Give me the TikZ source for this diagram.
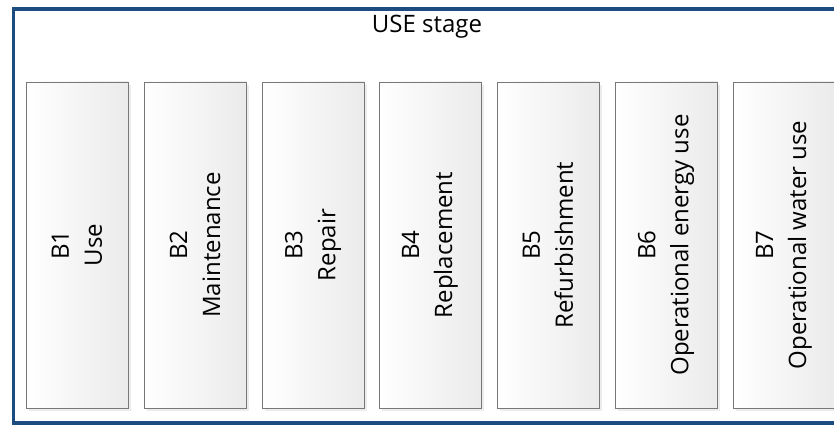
\documentclass[tikz,border=0pt]{standalone}
\usepackage{fontspec}
\setmainfont{Open Sans}
\usetikzlibrary{shadows}

\definecolor{stageblue}{RGB}{28,76,128}
\definecolor{boxedge}{RGB}{120,120,120}

\tikzset{
  stageframe/.style={draw=stageblue, line width=3.2pt, minimum width=830pt,
    minimum height=414pt, inner sep=0pt},
  stagebox/.style={draw=boxedge, line width=0.9pt, minimum width=102pt,
    minimum height=326pt, inner sep=0pt, left color=white, right color=black!8,
    drop shadow={shadow xshift=3pt, shadow yshift=-3pt, fill=black!12, opacity=.6}},
  boxlabel/.style={rotate=90, align=center, font=\fontsize{24}{33}\selectfont},
  stagetitle/.style={font=\fontsize{24}{28}\selectfont}
}

\begin{document}
\begin{tikzpicture}[x=1pt,y=-1pt]
  \useasboundingbox (0,0) rectangle (834,425);
  \clip (0,0) rectangle (834,425);
  \fill[white] (0,0) rectangle (834,425);

  % outer frame and its heading
  \node[stageframe] (stage) at (428.5,216) {};
  \node[stagetitle] (title) at (427,27) {USE stage};

  % the seven modules
  \node[stagebox] (b1) at (77,245) {};
  \node[stagebox] (b2) at (195,245) {};
  \node[stagebox] (b3) at (313,245) {};
  \node[stagebox] (b4) at (430,245) {};
  \node[stagebox] (b5) at (548,245) {};
  \node[stagebox] (b6) at (666,245) {};
  \node[stagebox] (b7) at (784,245) {};

  \node[boxlabel] (l1) at (b1.center) {B1\\Use};
  \node[boxlabel] (l2) at (b2.center) {B2\\Maintenance};
  \node[boxlabel] (l3) at (b3.center) {B3\\Repair};
  \node[boxlabel] (l4) at (b4.center) {B4\\Replacement};
  \node[boxlabel] (l5) at (b5.center) {B5\\Refurbishment};
  \node[boxlabel] (l6) at (b6.center) {B6\\Operational energy use};
  \node[boxlabel] (l7) at (b7.center) {B7\\Operational water use};
\end{tikzpicture}
\end{document}
